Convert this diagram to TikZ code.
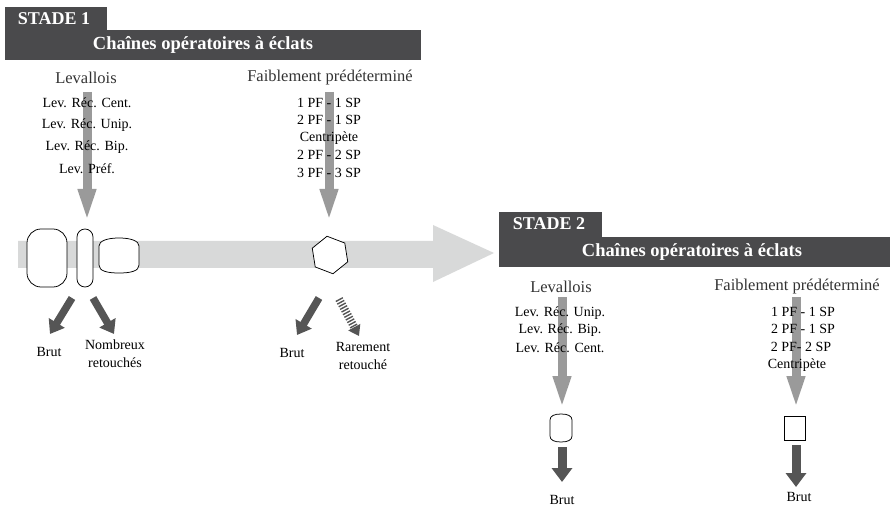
\documentclass[tikz,border=0pt]{standalone}
\usepackage{fontspec}
\setmainfont{Liberation Serif}
\usetikzlibrary{arrows.meta, shapes.geometric}

\definecolor{bandgray}{HTML}{4A4A4C}
\definecolor{flowgray}{HTML}{D8D9D9}
\definecolor{chaingray}{HTML}{9A9A9A}
\definecolor{productgray}{HTML}{555555}

\begin{document}
\begin{tikzpicture}[x=1pt, y=-1pt,
    stagelabel/.style={text=white, font=\fontsize{18}{20}\selectfont\bfseries, inner sep=0pt},
    titlelabel/.style={text=white, font=\fontsize{18.5}{20}\selectfont\bfseries, inner sep=0pt},
    head/.style={text=black!80, font=\fontsize{16.5}{18}\selectfont, inner sep=1pt},
    item/.style={text=black, font=\fontsize{14}{18}\selectfont, inner sep=1pt, align=center},
    flake/.style={draw, fill=white, line width=0.75pt},
    chainarrow/.style={chaingray, line width=9pt, -{Triangle[length=34pt, width=16pt]}},
    productarrow/.style={productgray, line width=7.5pt, -{Triangle[length=13pt, width=18pt]}},
    rarearrow/.style={productgray, line width=8pt, dash pattern=on 1.4pt off 1.6pt, -{Triangle[length=10pt, width=13pt]}}]

\useasboundingbox (0,0) rectangle (890,510);

% --- Flow of stages ---
\fill[flowgray] (18,241) -- (433,241) -- (433,225) -- (494,253) -- (433,282)
    -- (433,268) -- (18,268) -- cycle;

% --- Stage 1 header ---
\fill[bandgray] (5,7) rectangle (107,31);
\fill[bandgray] (5,30) rectangle (421,60);
\node[stagelabel] (stadeA) at (54,19) {STADE 1};
\node[titlelabel] (titleA) at (203,45) {Chaînes opératoires à éclats};

% --- Stage 1 chains ---
\coordinate (levAtop) at (87,92);
\coordinate (levAend) at (87,223);
\coordinate (faibAtop) at (329,92);
\coordinate (faibAend) at (329,223);
\draw[chainarrow] (levAtop) -- (levAend);
\draw[chainarrow] (faibAtop) -- (faibAend);

\node[head] (levallA) at (86,78) {Levallois};
\node[item] (levA1) at (87,103) {Lev. Réc. Cent.};
\node[item] (levA2) at (87,125) {Lev. Réc. Unip.};
\node[item] (levA3) at (87,147) {Lev. Réc. Bip.};
\node[item] (levA4) at (87,169) {Lev. Préf.};

\node[head] (faibA) at (330,78) {Faiblement prédéterminé};
\node[item] (faibA1) at (329,103) {1 PF - 1 SP};
\node[item] (faibA2) at (329,120) {2 PF - 1 SP};
\node[item] (faibA3) at (329,138) {Centripète};
\node[item] (faibA4) at (329,155) {2 PF - 2 SP};
\node[item] (faibA5) at (329,173) {3 PF - 3 SP};

% --- Stage 1 products ---
\node[flake, rounded corners=14pt, minimum width=40pt, minimum height=58pt] (flakeA) at (47,258) {};
\node[flake, rounded corners=8pt, minimum width=16pt, minimum height=58pt] (flakeB) at (85,258) {};
\coordinate (flakeC) at (119,255);
% barrel outline, convex top and bottom
\draw[flake, shift={(flakeC)}] (-20,-9) -- (-20,10)
    .. controls (-20,16) and (-12,18) .. (0,18) .. controls (12,18) and (20,16) .. (20,10)
    -- (20,-9) .. controls (20,-14) and (12,-17) .. (0,-17)
    .. controls (-12,-17) and (-20,-14) .. (-20,-9) -- cycle;
\node[flake, regular polygon, regular polygon sides=6, minimum size=38pt, rotate=-21] (hexA) at (330,255) {};

\coordinate (brutAtop) at (72,298);
\coordinate (brutAend) at (50,334);
\coordinate (retAtop) at (93,298);
\coordinate (retAend) at (114,334);
\coordinate (brutBtop) at (319,298);
\coordinate (brutBend) at (297,335);
\coordinate (rareBtop) at (339,299);
\coordinate (rareBend) at (359,336);
\draw[productarrow] (brutAtop) -- (brutAend);
\draw[productarrow] (retAtop) -- (retAend);
\draw[productarrow] (brutBtop) -- (brutBend);
\draw[rarearrow] (rareBtop) -- (rareBend);

\node[item] (brutA) at (49,352) {Brut};
\node[item] (retA) at (115,354) {Nombreux\\retouchés};
\node[item] (brutB) at (292,353) {Brut};
\node[item] (rareB) at (363,356) {Rarement\\retouché};

% --- Stage 2 header ---
\fill[bandgray] (499,212) rectangle (602,238);
\fill[bandgray] (499,237) rectangle (890,267);
\node[stagelabel] (stadeB) at (549,224) {STADE 2};
\node[titlelabel] (titleB) at (692,252) {Chaînes opératoires à éclats};

% --- Stage 2 chains ---
\coordinate (levBtop) at (562,297);
\coordinate (levBend) at (562,410);
\coordinate (faibBtop) at (796,297);
\coordinate (faibBend) at (796,410);
\draw[chainarrow] (levBtop) -- (levBend);
\draw[chainarrow] (faibBtop) -- (faibBend);

\node[head] (levallB) at (561,287) {Levallois};
\node[item] (levB1) at (560,313) {Lev. Réc. Unip.};
\node[item] (levB2) at (560,330) {Lev. Réc. Bip.};
\node[item] (levB3) at (560,348) {Lev. Réc. Cent.};

\node[head] (faibB) at (797,287) {Faiblement prédéterminé};
\node[item] (faibB1) at (803,312) {1 PF - 1 SP};
\node[item] (faibB2) at (803,329) {2 PF - 1 SP};
\node[item] (faibB3) at (801,347) {2 PF- 2 SP};
\node[item] (faibB4) at (797,365) {Centripète};

% --- Stage 2 products ---
\coordinate (flakeD) at (561,428);
\draw[flake, shift={(flakeD)}] (-11,-8) -- (-11,8)
    .. controls (-11,12) and (-7,14) .. (0,14) .. controls (7,14) and (11,12) .. (11,8)
    -- (11,-8) .. controls (11,-12) and (7,-14) .. (0,-14)
    .. controls (-7,-14) and (-11,-12) .. (-11,-8) -- cycle;
\node[flake, minimum width=21pt, minimum height=24pt] (flakeE) at (795,428) {};

\coordinate (brutCtop) at (562,447);
\coordinate (brutCend) at (562,482);
\coordinate (brutDtop) at (796,445);
\coordinate (brutDend) at (796,487);
\draw[productarrow, line width=9pt, -{Triangle[length=14pt, width=20pt]}] (brutCtop) -- (brutCend);
\draw[productarrow, line width=9pt, -{Triangle[length=14pt, width=20pt]}] (brutDtop) -- (brutDend);

\node[item] (brutC) at (562,500) {Brut};
\node[item] (brutD) at (799,497) {Brut};
\end{tikzpicture}
\end{document}
